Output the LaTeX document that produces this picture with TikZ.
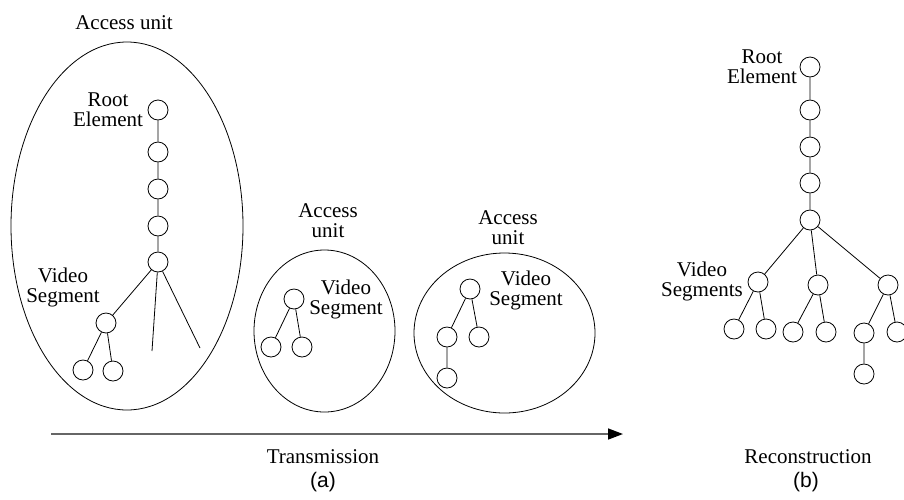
\documentclass[tikz,border=0pt]{standalone}
\usepackage{fontspec}
\setmainfont{Liberation Serif}
\newfontfamily\capfont{Liberation Sans}
\usetikzlibrary{shapes.geometric,arrows.meta}

\tikzset{
  el/.style={circle, draw, line width=0.8pt, minimum size=20pt, inner sep=0pt},
  unit/.style={ellipse, draw, line width=0.8pt, inner sep=0pt},
  % multi-line labels are placed by the baseline of their last line
  lbl/.style={align=center, inner sep=0pt, anchor=base, font=\fontsize{21}{19.5}\selectfont},
  sublbl/.style={inner sep=0pt, anchor=base, font=\capfont\fontsize{21}{20}\selectfont},
  link/.style={line width=0.8pt},
}

\begin{document}
\begin{tikzpicture}[x=1pt, y=-1pt]
\useasboundingbox (0,0) rectangle (904,499);

% ---- (a): first access unit with the full tree ----
\node[unit, minimum width=232pt, minimum height=368pt] (au1) at (127,226) {};
\node[lbl] (au1t) at (124,29) {Access unit};
\node[el] (a1) at (158,110) {};
\node[el] (a2) at (158,152) {};
\node[el] (a3) at (158,189) {};
\node[el] (a4) at (158,226) {};
\node[el] (a5) at (158,262) {};
\node[el] (a6) at (106,323) {};
\node[el] (a7) at (83,370) {};
\node[el] (a8) at (113,371) {};
\coordinate (ad1) at (152,351);
\coordinate (ad2) at (200,348);
\node[lbl] (aroot) at (108,126) {Root\\Element};
\node[lbl] (avs) at (63,302) {Video\\Segment};
\draw[link] (a1) -- (a2) (a2) -- (a3) (a3) -- (a4) (a4) -- (a5)
            (a5) -- (a6) (a6) -- (a7) (a6) -- (a8)
            (a5) -- (ad1) (a5) -- (ad2);

% ---- (a): second access unit ----
\node[unit, minimum width=141pt, minimum height=162pt] (au2) at (324.5,331) {};
\node[lbl] (au2t) at (328,237) {Access\\unit};
\node[el] (b1) at (294,299) {};
\node[el] (b2) at (271,347) {};
\node[el] (b3) at (302,347) {};
\node[lbl] (bvs) at (346,314) {Video\\Segment};
\draw[link] (b1) -- (b2) (b1) -- (b3);

% ---- (a): third access unit ----
\node[unit, minimum width=181pt, minimum height=160pt] (au3) at (504.5,333) {};
\node[lbl] (au3t) at (508,244) {Access\\unit};
\node[el] (c1) at (470,289) {};
\node[el] (c2) at (447,337) {};
\node[el] (c3) at (479,337) {};
\node[el] (c4) at (447,378) {};
\node[lbl] (cvs) at (526,305) {Video\\Segment};
\draw[link] (c1) -- (c2) (c1) -- (c3) (c2) -- (c4);

% ---- transmission axis ----
\coordinate (ts) at (51,434);
\coordinate (te) at (623,434);
\draw[line width=1.5pt, black!60, -{Triangle[length=15pt, width=11pt, color=black]}] (ts) -- (te);
\node[lbl] (trans) at (323,463) {Transmission};
\node[sublbl] (capa) at (323,487) {(a)};

% ---- (b): reconstructed tree ----
\node[el] (r1) at (810,67) {};
\node[el] (r2) at (810,110) {};
\node[el] (r3) at (810,147) {};
\node[el] (r4) at (810,183) {};
\node[el] (r5) at (810,220) {};
\node[el] (s1) at (758,282) {};
\node[el] (s2) at (818,285) {};
\node[el] (s3) at (888,285) {};
\node[el] (t1) at (734,329) {};
\node[el] (t2) at (766,329) {};
\node[el] (t3) at (793,332) {};
\node[el] (t4) at (826,332) {};
\node[el] (t5) at (864,333) {};
\node[el] (t6) at (897,332) {};
\node[el] (t7) at (864,374) {};
\node[lbl] (rroot) at (762,83) {Root\\Element};
\node[lbl] (rvs) at (702,296) {Video\\Segments};
\draw[link] (r1) -- (r2) (r2) -- (r3) (r3) -- (r4) (r4) -- (r5)
            (r5) -- (s1) (r5) -- (s2) (r5) -- (s3)
            (s1) -- (t1) (s1) -- (t2) (s2) -- (t3) (s2) -- (t4)
            (s3) -- (t5) (s3) -- (t6) (t5) -- (t7);
\node[lbl] (recon) at (808,463) {Reconstruction};
\node[sublbl] (capb) at (806,487) {(b)};
\end{tikzpicture}
\end{document}
